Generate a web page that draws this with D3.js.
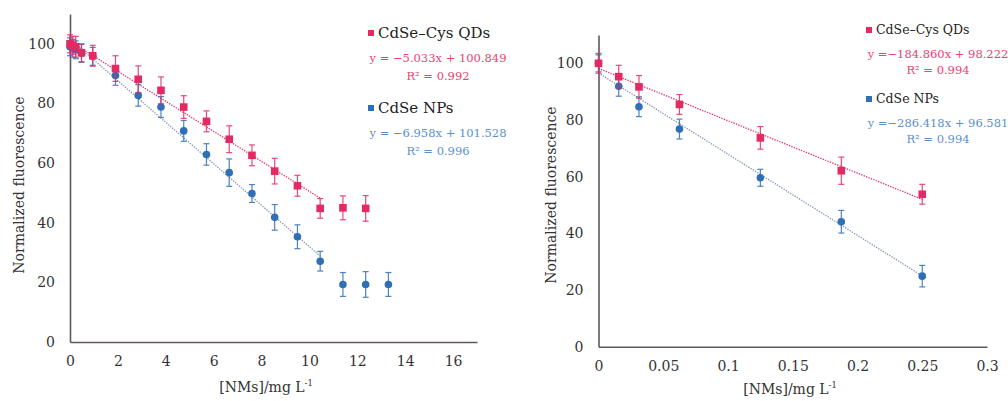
<!DOCTYPE html>
<html>
<head>
<meta charset="utf-8">
<script src="https://cdn.jsdelivr.net/npm/d3@7"></script>
<style>
  body { margin: 0; background: #fff; }
</style>
</head>
<body>
<div id="chart"></div>
<script>
// left panel: concentration in mg/L
const leftX = [0, 0.12, 0.24, 0.48, 0.95, 1.9, 2.85, 3.8, 4.75, 5.7, 6.65, 7.6, 8.55, 9.5, 10.45, 11.4, 12.35, 13.3];
const leftQD = [100, 99.5, 99, 97, 96, 91.7, 88.1, 84.4, 78.8, 74.0, 68.0, 62.6, 57.3, 52.4, 44.8, 45.0, 44.8];
const leftQDErr = [3, 3, 3.5, 3, 3.5, 4.3, 4.5, 4.5, 3.8, 3.5, 4.5, 3.5, 4.3, 3.5, 3.3, 4, 4.3];
const leftNP = [99, 98.5, 98, 96.8, 95.8, 89.4, 82.7, 78.8, 70.8, 62.9, 56.8, 49.8, 41.8, 35.3, 27.1, 19.3, 19.3, 19.3];
const leftNPErr = [3, 3, 3, 3, 3, 3.3, 3.6, 3.5, 3.5, 3.6, 4.6, 3, 4.3, 4, 3.3, 4, 4.3, 4];
const leftFitEnd = 10.45;
const leftQDFit = [-5.033, 100.849], leftNPFit = [-6.958, 101.528];
const leftXTicks = [0, 2, 4, 6, 8, 10, 12, 14, 16];

// right panel
const rightX = [0, 0.015625, 0.03125, 0.0625, 0.125, 0.1875, 0.25];
const rightQD = [100, 95.3, 91.7, 85.5, 73.7, 62.1, 53.8];
const rightQDErr = [3.5, 4, 4, 3.5, 4, 4.8, 3.5];
const rightNP = [100, 91.9, 84.7, 76.8, 59.6, 44.1, 24.9];
const rightNPErr = [3, 3.5, 3.5, 3.5, 3, 4, 3.8];
const rightQDFit = [-184.860, 98.222], rightNPFit = [-286.418, 96.581];
const rightXTicks = [0, 0.05, 0.1, 0.15, 0.2, 0.25, 0.3];

const yTicks = [0, 20, 40, 60, 80, 100];
const seriesNames = ["CdSe–Cys QDs", "CdSe NPs"];
const leftEq = ["y = −5.033x + 100.849", "R² = 0.992", "y = −6.958x + 101.528", "R² = 0.996"];
const rightEq = ["y =−184.860x + 98.222", "R² = 0.994", "y =−286.418x + 96.581", "R² = 0.994"];

const red = "#e42a62", blue = "#2f6fb6";
const redText = "#e8426f", blueText = "#5a8fcc";
const axisColor = "#625858";
const serif = "DejaVu Serif";

const svg = d3.select("#chart").append("svg")
  .attr("width", 1008).attr("height", 401);

function panel(o) {
  const x = d3.scaleLinear().domain(o.xDomain).range(o.xRange);
  const y = d3.scaleLinear().domain([0, 110]).range(o.yRange);
  const g = svg.append("g");

  // axes
  const ya = g.append("g").attr("transform", `translate(${o.xRange[0]},0)`)
    .call(d3.axisLeft(y).tickValues(yTicks).tickSize(0).tickPadding(15));
  const xa = g.append("g").attr("transform", `translate(0,${o.yRange[0]})`)
    .call(d3.axisBottom(x).tickValues(o.xTicks).tickSize(0).tickPadding(14).tickFormat(d => String(d)));
  [ya, xa].forEach(a => {
    a.attr("font-family", serif);
    a.select(".domain").attr("stroke", axisColor).attr("stroke-width", 1.6);
    a.selectAll("text").attr("fill", "#333").style("font-size", o.tickFont + "px");
  });

  // trend lines
  const fits = [[o.qdFit, red, o.qdFitEnd], [o.npFit, "#7d93b3", o.npFitEnd]];
  fits.forEach(([f, c, end]) => {
    g.append("line")
      .attr("x1", x(0)).attr("y1", y(f[1]))
      .attr("x2", x(end)).attr("y2", y(f[0] * end + f[1]))
      .attr("stroke", c).attr("stroke-width", 1.3)
      .attr("stroke-dasharray", "1.3,1.3");
  });

  // series
  const series = [
    { xs: o.npX, ys: o.np, err: o.npErr, color: blue, shape: "circle" },
    { xs: o.qdX, ys: o.qd, err: o.qdErr, color: red, shape: "square" }
  ];
  series.forEach(s => {
    const pts = s.ys.map((v, i) => ({ x: s.xs[i], y: v, e: s.err[i] }));
    const eg = g.append("g").attr("stroke", s.color).attr("stroke-width", 1.2).attr("opacity", 0.85);
    pts.forEach(p => {
      eg.append("line").attr("x1", x(p.x)).attr("x2", x(p.x)).attr("y1", y(p.y - p.e)).attr("y2", y(p.y + p.e));
      [p.y - p.e, p.y + p.e].forEach(v =>
        eg.append("line").attr("x1", x(p.x) - 3).attr("x2", x(p.x) + 3).attr("y1", y(v)).attr("y2", y(v)));
    });
    if (s.shape === "circle") {
      g.selectAll(null).data(pts).enter().append("circle")
        .attr("cx", d => x(d.x)).attr("cy", d => y(d.y)).attr("r", 3.8)
        .attr("fill", s.color);
    } else {
      g.selectAll(null).data(pts).enter().append("rect")
        .attr("x", d => x(d.x) - 3.8).attr("y", d => y(d.y) - 3.8)
        .attr("width", 7.6).attr("height", 7.6).attr("fill", s.color);
    }
  });

  // axis titles
  g.append("text")
    .attr("transform", `translate(${o.yTitleX},${o.yTitleY}) rotate(-90)`)
    .attr("text-anchor", "middle").attr("fill", "#333")
    .style("font-size", o.titleFont + "px").text("Normalized fluorescence");
  const xt = g.append("text").attr("x", o.xTitleX).attr("y", o.xTitleY)
    .attr("text-anchor", "middle").attr("fill", "#333").style("font-size", o.titleFont + "px");
  xt.append("tspan").text("[NMs]/mg L");
  xt.append("tspan").attr("dy", -6).style("font-size", (o.titleFont * 0.6) + "px").text("-1");

  // legend
  const lg = g.append("g");
  const L = o.legend;
  [[0, red, redText], [1, blue, blueText]].forEach(([i, c, tc]) => {
    const top = L.y[i];
    lg.append("rect").attr("x", L.x).attr("y", top - 3).attr("width", 6).attr("height", 6).attr("fill", c);
    lg.append("text").attr("x", L.x + 10).attr("y", top + L.nameSize * 0.33)
      .attr("fill", "#222").style("font-size", L.nameSize + "px").text(seriesNames[i]);
    lg.append("text").attr("x", L.eqX).attr("y", top + L.eqDy).attr("text-anchor", "middle")
      .attr("fill", tc).style("font-size", L.eqSize + "px").text(o.eq[i * 2]);
    lg.append("text").attr("x", L.eqX).attr("y", top + L.eqDy + L.rDy).attr("text-anchor", "middle")
      .attr("fill", tc).style("font-size", L.eqSize + "px").text(o.eq[i * 2 + 1]);
  });
}

panel({
  xDomain: [0, 17], xRange: [70, 477], yRange: [342, 14], xTicks: leftXTicks,
  qdX: leftX.slice(0, leftQD.length), qd: leftQD, qdErr: leftQDErr,
  npX: leftX, np: leftNP, npErr: leftNPErr,
  qdFit: leftQDFit, npFit: leftNPFit, qdFitEnd: leftFitEnd, npFitEnd: leftFitEnd,
  tickFont: 14, titleFont: 14,
  yTitleX: 24, yTitleY: 185, xTitleX: 266, xTitleY: 392,
  eq: leftEq,
  legend: { x: 368, y: [33, 108], nameSize: 15, eqX: 438, eqDy: 29, rDy: 18, eqSize: 11.5 }
});

panel({
  xDomain: [0, 0.3], xRange: [598.5, 987], yRange: [346.7, 35], xTicks: rightXTicks,
  qdX: rightX, qd: rightQD, qdErr: rightQDErr,
  npX: rightX, np: rightNP, npErr: rightNPErr,
  qdFit: rightQDFit, npFit: rightNPFit, qdFitEnd: 0.25, npFitEnd: 0.25,
  tickFont: 14, titleFont: 14,
  yTitleX: 556, yTitleY: 195, xTitleX: 790, xTitleY: 394,
  eq: rightEq,
  legend: { x: 866, y: [30, 99], nameSize: 12.5, eqX: 938, eqDy: 28, rDy: 16, eqSize: 11.5 }
});

svg.selectAll("text").attr("font-family", serif).style("font-family", serif);
</script>
</body>
</html>
